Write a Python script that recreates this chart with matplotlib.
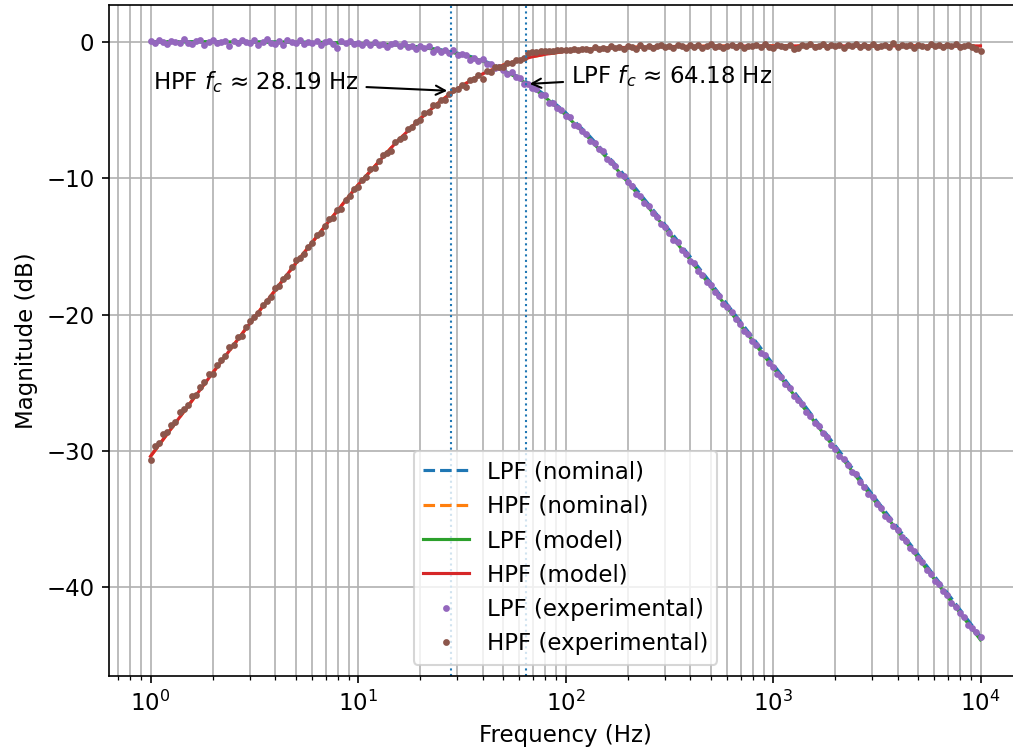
import numpy as np
import matplotlib.pyplot as plt

plt.rcParams['font.size'] = 11

# Corner frequencies (Hz)
fc_lpf = 64.18
fc_hpf = 28.19

# Model / nominal curves (dB)
f_model = [1, 2, 3, 5, 7, 10, 15, 20, 25, 30, 35, 40, 50, 60, 70, 80,
           100, 130, 170, 220, 300, 500, 1000, 2000, 5000, 10000]
lpf_nominal = [0.0, 0.0, -0.01, -0.02, -0.05, -0.10, -0.22, -0.38, -0.58, -0.82,
               -1.08, -1.36, -1.97, -2.62, -3.27, -3.93, -5.18, -6.88, -8.83,
               -10.83, -13.36, -17.66, -23.63, -29.64, -37.59, -43.61]
hpf_nominal = [-30.40, -24.25, -20.68, -16.26, -13.44, -10.50, -7.50, -5.62, -4.34,
               -3.46, -2.82, -2.34, -1.71, -1.33, -1.08, -0.91, -0.70, -0.54, -0.44,
               -0.39, -0.35, -0.32, -0.30, -0.30, -0.30, -0.30]
lpf_model = [0.0, 0.0, -0.01, -0.03, -0.05, -0.10, -0.23, -0.40, -0.61, -0.86,
             -1.13, -1.42, -2.06, -2.73, -3.40, -4.07, -5.35, -7.08, -9.04,
             -11.06, -13.59, -17.90, -23.87, -29.88, -37.83, -43.85]
hpf_model = [-30.40, -24.25, -20.68, -16.26, -13.44, -10.50, -7.50, -5.62, -4.34,
             -3.46, -2.82, -2.34, -1.71, -1.33, -1.08, -0.91, -0.70, -0.54, -0.44,
             -0.39, -0.35, -0.32, -0.30, -0.30, -0.30, -0.30]

# Measured points, 50 per decade from 1 Hz to 10 kHz
f_exp = np.logspace(0, 4, 201)
lpf_exp = [
    0.05, -0.10, 0.12, -0.03, -0.18, 0.08, 0.02, -0.12, 0.20, -0.06,
    -0.15, 0.04, 0.10, -0.22, 0.01, 0.14, -0.08, -0.02, 0.09, -0.30,
    0.05, -0.12, 0.15, -0.01, -0.08, 0.10, -0.20, 0.02, 0.24, -0.06,
    -0.15, 0.05, -0.26, 0.10, -0.03, -0.12, 0.15, -0.19, 0.02, -0.07,
    0.09, -0.25, -0.03, 0.03, -0.18, -0.42, 0.03, -0.11, 0.06, -0.18,
    -0.06, -0.25, -0.04, -0.20, 0.02, -0.26, -0.17, -0.38, -0.15, -0.12,
    -0.31, -0.06, -0.40, -0.31, -0.52, -0.34, -0.46, -0.34, -0.77, -0.49,
    -0.73, -0.63, -0.80, -0.61, -1.00, -0.92, -0.93, -1.31, -1.17, -1.37,
    -1.29, -1.62, -1.62, -1.93, -1.85, -2.07, -2.34, -2.23, -2.60, -2.66,
    -3.07, -3.08, -3.37, -3.46, -3.88, -3.90, -4.45, -4.49, -4.83, -4.97,
    -5.42, -5.52, -6.07, -6.20, -6.55, -6.77, -7.29, -7.44, -7.88, -8.04,
    -8.60, -8.84, -9.13, -9.68, -9.87, -10.31, -10.54, -11.17, -11.31, -11.79,
    -12.03, -12.58, -12.85, -13.39, -13.59, -14.02, -14.51, -14.68, -15.24, -15.54,
    -16.05, -16.21, -16.81, -17.12, -17.64, -17.84, -18.35, -18.64, -19.25, -19.45,
    -19.80, -20.36, -20.66, -21.21, -21.39, -21.90, -22.22, -22.78, -22.95, -23.52,
    -23.86, -24.35, -24.56, -25.11, -25.39, -25.99, -26.23, -26.57, -27.12, -27.44,
    -27.96, -28.18, -28.69, -28.94, -29.53, -29.82, -30.37, -30.60, -31.06, -31.55,
    -31.72, -32.30, -32.63, -33.13, -33.35, -33.89, -34.18, -34.77, -35.00, -35.47,
    -35.76, -36.31, -36.62, -37.15, -37.37, -37.86, -38.14, -38.72, -39.01, -39.54,
    -39.79, -40.28, -40.53, -41.13, -41.43, -41.90, -42.15, -42.76, -42.98, -43.30,
    -43.65]
hpf_exp = [
    -30.65, -29.61, -29.38, -28.75, -28.63, -28.09, -27.88, -27.11, -26.91, -26.61,
    -26.00, -25.86, -25.28, -24.97, -24.35, -24.32, -23.66, -23.35, -23.04, -22.40,
    -22.21, -21.65, -21.56, -20.91, -20.44, -20.21, -19.92, -19.29, -18.97, -18.70,
    -18.03, -17.87, -17.37, -17.18, -16.53, -16.03, -15.87, -15.58, -15.01, -14.74,
    -14.19, -14.02, -13.51, -13.00, -12.91, -12.34, -12.25, -11.58, -11.28, -10.79,
    -10.63, -10.10, -9.88, -9.31, -9.25, -8.74, -8.32, -8.18, -7.97, -7.37,
    -7.11, -6.95, -6.37, -6.25, -5.85, -5.73, -5.24, -5.13, -4.63, -4.65,
    -4.26, -4.23, -3.84, -3.52, -3.49, -3.14, -3.34, -2.81, -2.70, -2.42,
    -2.71, -2.17, -2.20, -1.86, -1.87, -1.81, -1.57, -1.58, -1.35, -1.36,
    -1.22, -0.79, -0.75, -0.73, -0.69, -0.69, -0.66, -0.67, -0.59, -0.63,
    -0.58, -0.61, -0.54, -0.63, -0.51, -0.54, -0.60, -0.41, -0.54, -0.43,
    -0.54, -0.33, -0.45, -0.36, -0.54, -0.31, -0.36, -0.49, -0.23, -0.43,
    -0.30, -0.47, -0.34, -0.25, -0.41, -0.30, -0.48, -0.26, -0.32, -0.42,
    -0.20, -0.36, -0.26, -0.44, -0.29, -0.14, -0.39, -0.27, -0.42, -0.30,
    -0.22, -0.37, -0.20, -0.46, -0.27, -0.33, -0.23, -0.40, -0.17, -0.36,
    -0.42, -0.24, -0.29, -0.38, -0.20, -0.50, -0.46, -0.23, -0.34, -0.18,
    -0.37, -0.27, -0.15, -0.40, -0.25, -0.33, -0.21, -0.43, -0.24, -0.28,
    -0.19, -0.38, -0.26, -0.35, -0.17, -0.41, -0.28, -0.22, -0.36, -0.10,
    -0.39, -0.25, -0.32, -0.20, -0.42, -0.23, -0.27, -0.37, -0.18, -0.34,
    -0.24, -0.40, -0.21, -0.33, -0.16, -0.38, -0.29, -0.25, -0.41, -0.55,
    -0.70]

fig = plt.figure(figsize=(1013 / 150, 749 / 150), dpi=150)
ax = fig.add_axes([109 / 1013, 73 / 749, 913 / 1013, 671 / 749])

ax.semilogx(f_model, lpf_nominal, '--', label='LPF (nominal)')
ax.semilogx(f_model, hpf_nominal, '--', label='HPF (nominal)')
ax.semilogx(f_model, lpf_model, '-', label='LPF (model)')
ax.semilogx(f_model, hpf_model, '-', label='HPF (model)')
ax.semilogx(f_exp, lpf_exp, '.', ms=4.5, label='LPF (experimental)')
ax.semilogx(f_exp, hpf_exp, '.', ms=4.5, label='HPF (experimental)')

ax.axvline(fc_lpf, ls=':', lw=1)
ax.axvline(fc_hpf, ls=':', lw=1)

ax.annotate(rf'LPF $f_c$ ≈ {fc_lpf:.2f} Hz', xy=(fc_lpf, -3.1), xytext=(326, -2.5),
            ha='center', va='center', arrowprops=dict(arrowstyle='->'))
ax.annotate(rf'HPF $f_c$ ≈ {fc_hpf:.2f} Hz', xy=(fc_hpf, -3.6), xytext=(3.2, -2.95),
            ha='center', va='center', arrowprops=dict(arrowstyle='->'))

ax.set_xlim(10 ** -0.2, 10 ** 4.2)
ax.set_ylim(-46.5, 2.7)
ax.set_xlabel('Frequency (Hz)')
ax.set_ylabel('Magnitude (dB)')
ax.grid(True, which='both')
ax.legend(loc='lower center')

fig.savefig('out.png', dpi=150)
